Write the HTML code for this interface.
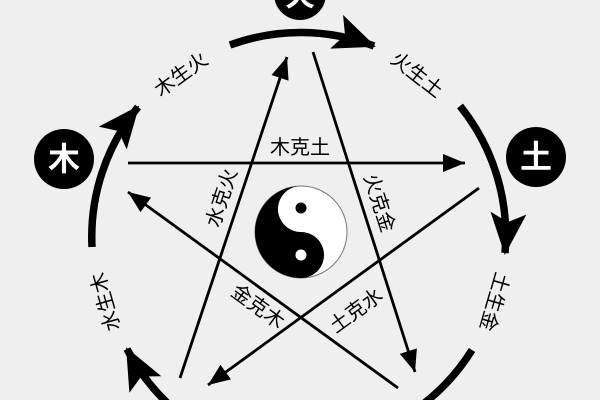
<!DOCTYPE html>
<html><head><meta charset="utf-8"><style>
html,body{margin:0;padding:0;background:#efefef;}
svg{display:block;}
text{font-family:"Liberation Sans","Noto Sans CJK SC",sans-serif;}
</style></head><body>
<svg width="600" height="400" viewBox="0 0 600 400" xmlns="http://www.w3.org/2000/svg">
<defs>
<marker id="big" markerUnits="userSpaceOnUse" markerWidth="42" markerHeight="36" viewBox="0 0 42 36" refX="40" refY="18" orient="auto">
<path d="M0,0 L42,18 L0,36 L9,18 Z" fill="#000"/>
</marker>
<marker id="sm" markerUnits="userSpaceOnUse" markerWidth="22" markerHeight="18" viewBox="0 0 22 18" refX="22" refY="9" orient="auto">
<path d="M0,0 L22,9 L0,18 Z" fill="#000"/>
</marker>
</defs>
<rect width="600" height="400" fill="#efefef"/>
<g fill="none" stroke="#000" stroke-width="7.5">
<path d="M230,45 A206,206 0 0 1 374,46" marker-end="url(#big)"/>
<path d="M460,106 A206,206 0 0 1 505,253" marker-end="url(#big)"/>
<path d="M472,350 A206,206 0 0 1 415,410"/>
<path d="M175,410 A206,206 0 0 1 127,349" marker-end="url(#big)"/>
<path d="M92,247 A206,206 0 0 1 138,107" marker-end="url(#big)"/>
</g>
<g fill="none" stroke="#000" stroke-width="2.8">
<line x1="128" y1="163" x2="465" y2="163" marker-end="url(#sm)"/>
<line x1="180" y1="378" x2="287" y2="57" marker-end="url(#sm)"/>
<line x1="313" y1="52" x2="415" y2="372" marker-end="url(#sm)"/>
<line x1="398" y1="388" x2="128" y2="192" marker-end="url(#sm)"/>
<line x1="479" y1="188" x2="208" y2="385" marker-end="url(#sm)"/>
</g>
<circle cx="301" cy="232" r="46" fill="#fff" stroke="#777" stroke-width="1"/>
<path d="M301,186 A46,46 0 0 0 301,278 A23,23 0 0 0 301,232 A23,23 0 0 1 301,186 Z" fill="#000"/>
<circle cx="301" cy="208" r="5.5" fill="#000"/>
<circle cx="301" cy="255" r="5.5" fill="#fff"/>
<circle cx="300" cy="-6" r="26" fill="#000"/>
<text x="300" y="6" font-size="30" font-weight="bold" fill="#fff" text-anchor="middle">火</text>
<circle cx="64" cy="159" r="30" fill="#000"/>
<text x="64" y="170" font-size="32" font-weight="bold" fill="#fff" text-anchor="middle">木</text>
<circle cx="536" cy="157" r="30" fill="#000"/>
<text x="536" y="168" font-size="32" font-weight="bold" fill="#fff" text-anchor="middle">土</text>
<g font-size="20" fill="#000" text-anchor="middle">
<text x="300" y="154">木克土</text>
<text transform="translate(185,80) rotate(-36)">木生火</text>
<text transform="translate(413,80) rotate(38)">火生土</text>
<text transform="translate(488,300) rotate(106)">土生金</text>
<text transform="translate(112,300) rotate(-106)">水生木</text>
<text transform="translate(228,200) rotate(-72)">水克火</text>
<text transform="translate(373,205) rotate(72)">火克金</text>
<text transform="translate(254,312) rotate(36)">金克木</text>
<text transform="translate(360,316) rotate(-36)">土克水</text>
</g>
</svg>
</body></html>
